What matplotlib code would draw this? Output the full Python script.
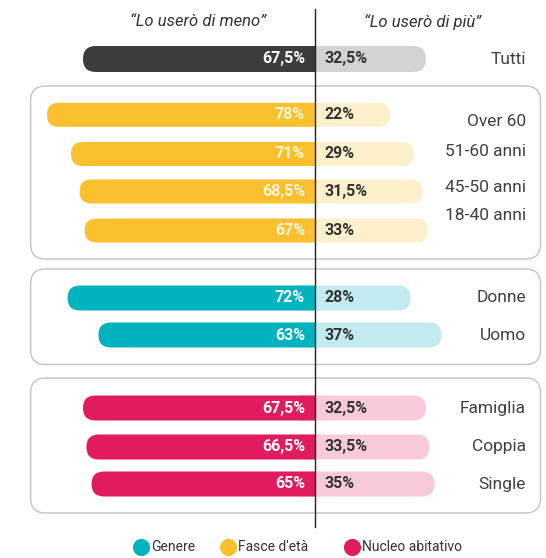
import matplotlib.pyplot as plt
from matplotlib.patches import FancyBboxPatch, Rectangle

# data
categories = ["Tutti", "Over 60", "51-60 anni", "45-50 anni", "18-40 anni",
              "Donne", "Uomo", "Famiglia", "Coppia", "Single"]
less = [67.5, 78, 71, 68.5, 67, 72, 63, 67.5, 66.5, 65]   # "Lo userò di meno"
more = [32.5, 22, 29, 31.5, 33, 28, 37, 32.5, 33.5, 35]   # "Lo userò di più"
groups = ["Tutti", "Fasce d'età", "Fasce d'età", "Fasce d'età", "Fasce d'età",
          "Genere", "Genere", "Nucleo abitativo", "Nucleo abitativo", "Nucleo abitativo"]
legend_groups = ["Genere", "Fasce d'età", "Nucleo abitativo"]

# styles
colors = {
    "Tutti": ("#3d3d3d", "#d3d3d3", "white"),
    "Fasce d'età": ("#fbc02d", "#fdf0cc", "#fff6dc"),
    "Genere": ("#00b3bf", "#c3eaee", "white"),
    "Nucleo abitativo": ("#e01b5e", "#f9cadb", "white"),
}
TEXT = "#333333"
PX = 3.43          # pixels per percent point
CX = 314.5         # pixel position of the zero line
W, H = 546, 558

# layout (pixel rows)
row_y = [59, 114.8, 154, 191.5, 230.5, 298, 335, 408, 447, 484]
label_y = [59, 122, 151, 188, 216, 298, 335, 408, 447, 484]
bar_h = [26, 24, 24, 24, 24, 25, 25, 25, 25, 25]
boxes = [(86, 259), (269, 364.5), (378, 513)]

plt.rcParams['font.family'] = ['Roboto', 'DejaVu Sans']

fig = plt.figure(figsize=(W / 100, H / 100), dpi=100)
ax = fig.add_axes([0, 0, 1, 1])
ax.set_xlim(-CX / PX, (W - CX) / PX)
ax.set_ylim(H, 0)
ax.axis("off")


def px(x):
    return (x - CX) / PX


def pill(x0, x1, y, h, color, clip=None, z=2):
    r = h / 2 / PX
    p = FancyBboxPatch((x0 + r, y - h / 2 + r * PX), x1 - x0 - 2 * r, h - 2 * r * PX,
                       boxstyle=f"round,pad={r},rounding_size={r}",
                       mutation_aspect=PX, fc=color, ec="none", zorder=z)
    ax.add_patch(p)
    if clip is not None:
        cr = Rectangle((clip[0], y - h), clip[1] - clip[0], 2 * h, transform=ax.transData)
        p.set_clip_path(cr)
    return p


# group frames
for top, bot in boxes:
    r = 15 / PX
    ax.add_patch(FancyBboxPatch((px(30.6) + r, top + r * PX), px(540.5) - px(30.6) - 2 * r,
                                bot - top - 2 * r * PX,
                                boxstyle=f"round,pad={r},rounding_size={r}",
                                mutation_aspect=PX, fc="none", ec="#c4c4c4", lw=1.0, zorder=1))

for i, cat in enumerate(categories):
    dark, light, ltxt = colors[groups[i]]
    y, h = row_y[i], bar_h[i]
    r = h / 2 / PX
    pill(-r * 2, more[i], y, h, light, z=2)
    pill(-less[i], r * 2, y, h, dark, clip=(-less[i] - 5, 0), z=3)
    ax.text(-9.5 / PX, y, f"{less[i]:g}%".replace(".", ","), ha="right", va="center",
            fontsize=11.5, fontweight="bold", color=ltxt, zorder=4)
    ax.text(9.5 / PX, y, f"{more[i]:g}%".replace(".", ","), ha="left", va="center",
            fontsize=11.5, fontweight="bold", color=TEXT, zorder=4)
    ax.text(px(526), label_y[i], cat, ha="right", va="center", fontsize=12.5, color="#404040")

# center line
ax.plot([0, 0], [9, 527], color="#222222", lw=1, zorder=5)

# headers
ax.text(px(198), 22, "\u201cLo userò di meno\u201d", ha="center", va="center",
        fontsize=12, style="italic", color=TEXT)
ax.text(px(423), 22, "\u201cLo userò di più\u201d", ha="center", va="center",
        fontsize=12, style="italic", color=TEXT)

# legend
leg_x = [141, 228, 352]
for g, lx in zip(legend_groups, leg_x):
    ax.scatter([px(lx)], [547], s=128, color=colors[g][0], zorder=5, clip_on=False)
    ax.text(px(lx + 10), 547, g, ha="left", va="center", fontsize=10, color=TEXT)

fig.savefig("out.png", dpi=100)
